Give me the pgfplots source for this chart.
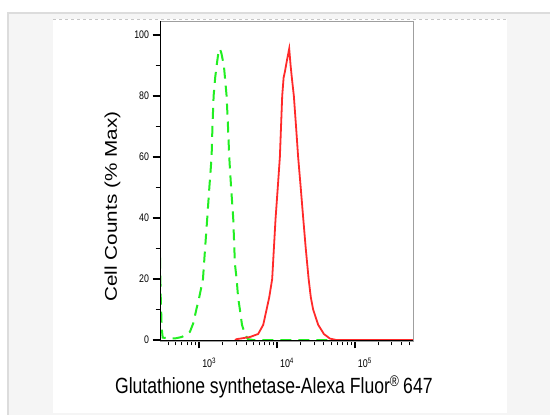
\documentclass[border=0pt]{standalone}
\usepackage{pgfplots}
\pgfplotsset{compat=1.18}
\usepackage{fontspec}
\setmainfont{Liberation Sans}[FakeStretch=0.8]
\newfontfamily\ylabfont{Liberation Sans}
\definecolor{framegray}{HTML}{DCDCDC}
\definecolor{panelgray}{HTML}{F5F5F5}
\definecolor{fgreen}{HTML}{22EE22}
\definecolor{fred}{HTML}{FF2A2A}

\begin{document}
\begin{tikzpicture}
\useasboundingbox (0pt,0pt) rectangle (550pt,415pt);
% page frame and white panel
\fill[white] (0pt,0pt) rectangle (550pt,415pt);
\fill[panelgray] (7pt,0pt) rectangle (550pt,403pt);
\draw[framegray, line width=2pt] (8pt,0pt) -- (8pt,402pt) -- (550pt,402pt);
\fill[white] (53pt,2pt) rectangle (507pt,396pt);
\draw[gray!45, dashed, line width=0.6pt] (53pt,396pt) -- (507pt,396pt);

\begin{axis}[
    at={(160pt,74pt)}, anchor=south west,
    scale only axis, width=253pt, height=320pt,
    xmode=log, xmin=313, xmax=561000,
    ymin=-0.3, ymax=104.6,
    axis line style={draw=gray!75},
    tick align=outside, tick pos=left,
    major tick length=7.5pt, minor tick length=4.5pt,
    tick style={black},
    every major tick/.append style={line width=1.6pt},
    every minor tick/.append style={line width=1pt},
    ytick={0,20,40,60,80,100},
    yticklabels={0,20,40,60,80,100},
    minor ytick={10,30,50,70,90},
    xtick={1000,10000,100000},
    xticklabels={10\textsuperscript{3},10\textsuperscript{4},10\textsuperscript{5}},
    minor xtick={400,500,600,700,800,900,
                 2000,3000,4000,5000,6000,7000,8000,9000,
                 20000,30000,40000,50000,60000,70000,80000,90000,
                 200000,300000,400000,500000},
    yticklabel style={font=\fontsize{11}{12}\selectfont},
    xticklabel style={font=\fontsize{11.2}{12}\selectfont, anchor=north west, xshift=-0.5pt, yshift=-6pt},
    xlabel={Glutathione synthetase-Alexa Fluor\textsuperscript{\textregistered}\,647},
    xlabel style={font=\fontsize{22}{24}\selectfont, at={(axis description cs:0.45,-0.165)}, anchor=base},
    ylabel={\scalebox{1}[0.82]{\ylabfont Cell Counts (\% Max)}},
    ylabel style={font=\fontsize{20.7}{22}\selectfont, at={(axis description cs:-0.188,0.42)}, anchor=center},
    after end axis/.code={
        \draw[black, line width=1pt] (rel axis cs:0,1) -- (rel axis cs:0,0) -- (rel axis cs:1,0);
    },
]

% isotype control (green, dashed)
\addplot[fgreen, line width=2pt, dash pattern=on 11pt off 7pt] coordinates {
    (313,27) (320,14) (329,4) (339,0.8) (442,0.5) (501,0.6) (594,1.0)
    (676,1.7) (759,2.7) (838,5.5) (927,10.5) (1000,14) (1117,20)
    (1189,30) (1268,40) (1349,50) (1442,60) (1479,70) (1531,80)
    (1603,86) (1675,90) (1758,94) (1845,95.5) (1928,94) (2075,90)
    (2249,80) (2344,70) (2432,60) (2570,50) (2735,40) (2877,25)
    (3027,20) (3162,14) (3334,10) (3548,5) (3864,2) (4227,0.3)
    (5012,0) (31623,0) (561000,0)
};

% Glutathione synthetase (red)
\addplot[fred, line width=1.8pt] coordinates {
    (2884,0) (3027,0.3) (4487,1) (5728,2) (6653,5) (7345,10) (7943,14)
    (8670,20) (9120,30) (9594,40) (10233,50) (10889,60) (11350,72)
    (11668,80) (12162,86) (12647,88) (13490,92) (14355,95.5) (14962,90)
    (15668,85) (16482,80) (17579,70) (18707,60) (20184,50) (21727,40)
    (23442,30) (25527,20) (27227,14) (29174,10) (33884,5) (40088,2)
    (47863,0.5) (58345,0) (561000,0)
};

\end{axis}
\end{tikzpicture}
\end{document}
